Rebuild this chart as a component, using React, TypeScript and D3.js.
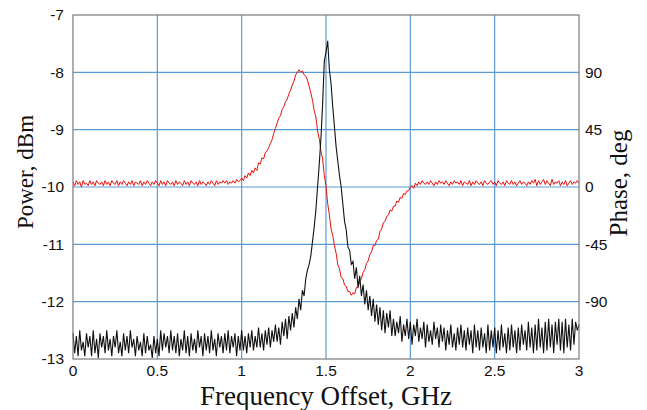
import React from "react";
import * as d3 from "d3";

// Frequency grid: 0 .. 3 GHz, step 0.01 GHz (index i -> i * FREQ_STEP)
const FREQ_STEP = 0.01;

// Power (dBm), black trace, one value per 0.01 GHz
const powerDbm: number[] = [
  -12.55, -12.9, -12.6, -12.95, -12.5, -12.85, -12.7, -12.95, -12.55, -12.8,
  -12.6, -12.95, -12.5, -12.9, -12.65, -12.98, -12.55, -12.8, -12.6, -12.9,
  -12.5, -12.85, -12.65, -12.95, -12.6, -12.8, -12.5, -12.9, -12.7, -12.95,
  -12.55, -12.85, -12.6, -12.9, -12.5, -12.8, -12.65, -12.95, -12.6, -12.85,
  -12.7, -12.95, -12.55, -12.9, -12.6, -12.85, -12.75, -12.98, -12.6, -12.9,
  -12.65, -12.95, -12.5, -12.85, -12.55, -12.8, -12.6, -12.9, -12.5, -12.85,
  -12.6, -12.9, -12.55, -12.95, -12.65, -12.85, -12.5, -12.9, -12.6, -12.95,
  -12.55, -12.85, -12.65, -12.9, -12.5, -12.8, -12.6, -12.95, -12.55, -12.85,
  -12.6, -12.9, -12.5, -12.85, -12.65, -12.95, -12.55, -12.8, -12.6, -12.9,
  -12.55, -12.85, -12.5, -12.9, -12.6, -12.8, -12.55, -12.95, -12.6, -12.85,
  -12.5, -12.85, -12.6, -12.9, -12.55, -12.8, -12.5, -12.85, -12.6, -12.8,
  -12.45, -12.8, -12.55, -12.85, -12.5, -12.75, -12.45, -12.8, -12.5, -12.7,
  -12.4, -12.7, -12.45, -12.75, -12.35, -12.6, -12.3, -12.65, -12.25, -12.5,
  -12.2, -12.45, -12.1, -12.3, -11.95, -12.15, -11.8, -11.9, -11.6, -11.45,
  -11.35, -11.2, -10.95, -10.7, -10.4, -10.0, -9.6, -9.15, -8.55, -7.8,
  -7.65, -7.45, -7.95, -8.2, -8.6, -8.95, -9.3, -9.55, -9.8, -10.0,
  -10.3, -10.6, -10.75, -11.05, -11.1, -11.35, -11.3, -11.6, -11.4, -11.75,
  -11.55, -11.9, -11.7, -12.05, -11.8, -12.15, -11.9, -12.25, -11.95, -12.35,
  -12.05, -12.4, -12.1, -12.5, -12.15, -12.55, -12.2, -12.45, -12.15, -12.6,
  -12.3, -12.6, -12.35, -12.55, -12.25, -12.7, -12.4, -12.6, -12.3, -12.65,
  -12.35, -12.75, -12.4, -12.6, -12.3, -12.7, -12.45, -12.65, -12.35, -12.8,
  -12.4, -12.7, -12.5, -12.75, -12.35, -12.65, -12.45, -12.8, -12.4, -12.7,
  -12.45, -12.85, -12.5, -12.75, -12.4, -12.8, -12.55, -12.85, -12.45, -12.75,
  -12.4, -12.8, -12.5, -12.85, -12.45, -12.75, -12.5, -12.9, -12.4, -12.8,
  -12.5, -12.85, -12.45, -12.8, -12.55, -12.9, -12.4, -12.85, -12.5, -12.8,
  -12.45, -12.9, -12.5, -12.85, -12.4, -12.8, -12.55, -12.9, -12.45, -12.85,
  -12.4, -12.8, -12.5, -12.9, -12.45, -12.85, -12.4, -12.75, -12.5, -12.85,
  -12.35, -12.8, -12.45, -12.9, -12.4, -12.85, -12.3, -12.8, -12.45, -12.9,
  -12.35, -12.85, -12.3, -12.8, -12.4, -12.9, -12.35, -12.75, -12.3, -12.85,
  -12.35, -12.9, -12.3, -12.8, -12.4, -12.85, -12.3, -12.75, -12.35, -12.5,
  -12.4,
];

// Phase (deg), red trace, one value per 0.01 GHz
const phaseDeg: number[] = [
  4, 1, 5, 2, 4, 0, 5, 2, 3, 1,
  5, 2, 4, 1, 5, 3, 2, 4, 1, 5,
  2, 4, 1, 5, 3, 2, 5, 1, 4, 2,
  5, 3, 1, 4, 2, 5, 1, 4, 3, 2,
  5, 1, 4, 2, 5, 3, 1, 4, 2, 5,
  3, 1, 5, 2, 4, 1, 5, 3, 2, 4,
  1, 5, 2, 4, 3, 1, 5, 2, 4, 1,
  5, 3, 2, 4, 1, 5, 2, 4, 3, 1,
  4, 2, 5, 3, 1, 5, 2, 4, 3, 5,
  3, 5, 2, 4, 3, 5, 3, 6, 4, 5,
  7, 5, 9, 7, 11, 9, 13, 11, 15, 13,
  19, 18, 23, 22, 27, 28, 31, 34, 37, 42,
  46, 50, 54, 56, 61, 63, 67, 69, 73, 76,
  80, 83, 88, 90, 92, 90, 91, 88, 87, 84,
  79, 74, 68, 60, 55, 44, 38, 28, 22, 9,
  1, -13, -22, -33, -38, -46, -52, -61, -64, -71,
  -72, -77, -78, -82, -82, -85, -83, -84, -79, -79,
  -74, -72, -67, -65, -60, -58, -53, -51, -46, -46,
  -42, -41, -35, -33, -28, -27, -23, -22, -18, -19,
  -15, -15, -11, -12, -8, -9, -5, -6, -3, -3,
  0, 1, -1, 3, 1, 4, 2, 5, 3, 2,
  4, 2, 5, 3, 1, 4, 2, 5, 3, 4,
  2, 5, 3, 1, 4, 2, 5, 3, 4, 2,
  5, 1, 4, 3, 2, 5, 1, 4, 2, 5,
  3, 2, 4, 1, 5, 3, 2, 4, 5, 2,
  4, 1, 5, 3, 2, 4, 1, 5, 3, 2,
  5, 2, 4, 1, 3, 5, 2, 4, 3, 1,
  4, 2, 5, 3, 6, 1, 5, 2, 4, 6,
  2, 5, 3, 1, 6, 2, 4, 3, 5, 1,
  4, 2, 5, 1, 3, 5, 2, 4, 3, 5,
  3,
];

const xTicks = [0, 0.5, 1, 1.5, 2, 2.5, 3];
const xTickLabels = ["0", "0.5", "1", "1.5", "2", "2.5", "3"];
const powerTicks = [-7, -8, -9, -10, -11, -12, -13];
const phaseTicks = [90, 45, 0, -45, -90];

const W = 647;
const H = 410;
const L = 73;
const R = 579;
const T = 15;
const B = 359;

export default function App() {
  const x = d3.scaleLinear().domain([0, 3]).range([L, R]);
  const yP = d3.scaleLinear().domain([-13, -7]).range([B, T]);
  const yPh = d3.scaleLinear().domain([-135, 135]).range([B, T]);

  const powerLine = d3
    .line<number>()
    .x((_, i) => x(i * FREQ_STEP))
    .y((d) => yP(d));
  const phaseLine = d3
    .line<number>()
    .x((_, i) => x(i * FREQ_STEP))
    .y((d) => yPh(d));

  const grid = "#5b9bd5";
  const sans = "'Liberation Sans', Arial, sans-serif";
  const serif = "'Liberation Serif', 'Times New Roman', serif";

  return (
    <svg
      width={W}
      height={H}
      style={{ position: "absolute", left: 0, top: 0, background: "#fff" }}
    >
      <rect x={0} y={0} width={W} height={H} fill="#fff" />
      {/* grid */}
      {xTicks.slice(1, -1).map((t) => (
        <line key={"gx" + t} x1={x(t)} x2={x(t)} y1={T} y2={B} stroke={grid} strokeWidth={1.2} />
      ))}
      {powerTicks.slice(1, -1).map((t) => (
        <line key={"gy" + t} x1={L} x2={R} y1={yP(t)} y2={yP(t)} stroke={grid} strokeWidth={1.2} />
      ))}
      {/* traces */}
      <path d={phaseLine(phaseDeg) || ""} fill="none" stroke="#e8100c" strokeWidth={1} />
      <path d={powerLine(powerDbm) || ""} fill="none" stroke="#111" strokeWidth={1.1} />
      {/* frame */}
      <rect x={L} y={T} width={R - L} height={B - T} fill="none" stroke="#7a7a7a" strokeWidth={1.2} />
      {/* left ticks */}
      {powerTicks.map((t) => (
        <text
          key={"lp" + t}
          x={64}
          y={yP(t)}
          dy="0.35em"
          textAnchor="end"
          fontFamily={sans}
          fontSize={15.5}
          fill="#111"
        >
          {t}
        </text>
      ))}
      {/* right ticks */}
      {phaseTicks.map((t) => (
        <text
          key={"rp" + t}
          x={585}
          y={yPh(t)}
          dy="0.35em"
          textAnchor="start"
          fontFamily={sans}
          fontSize={15.5}
          fill="#111"
        >
          {t}
        </text>
      ))}
      {/* x ticks */}
      {xTicks.map((t, i) => (
        <text
          key={"xt" + t}
          x={x(t)}
          y={376}
          textAnchor="middle"
          fontFamily={sans}
          fontSize={15.5}
          fill="#111"
        >
          {xTickLabels[i]}
        </text>
      ))}
      {/* axis titles */}
      <text
        x={326}
        y={405}
        textAnchor="middle"
        fontFamily={serif}
        fontSize={27}
        fill="#111"
      >
        Frequency Offset, GHz
      </text>
      <text
        transform={`translate(33,172) rotate(-90)`}
        textAnchor="middle"
        fontFamily={serif}
        fontSize={23}
        fill="#111"
      >
        Power, dBm
      </text>
      <text
        transform={`translate(627,183) rotate(-90)`}
        textAnchor="middle"
        fontFamily={serif}
        fontSize={25}
        fill="#111"
      >
        Phase, deg
      </text>
    </svg>
  );
}
